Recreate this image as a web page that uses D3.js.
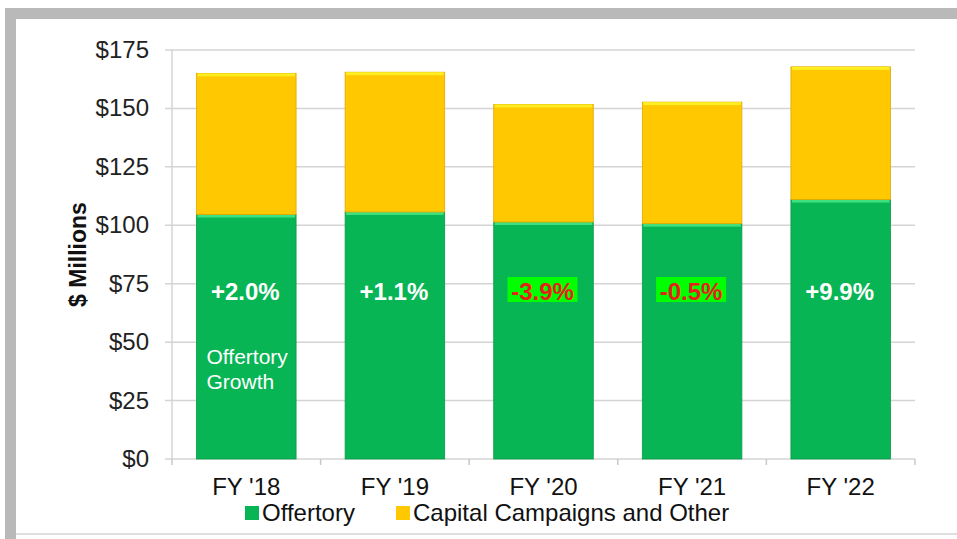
<!DOCTYPE html>
<html>
<head>
<meta charset="utf-8">
<script src="https://cdn.jsdelivr.net/npm/d3@7"></script>
<style>
  body { margin: 0; background: #fff; }
  svg { display: block; font-family: "Liberation Sans", Arial, sans-serif; }
</style>
</head>
<body>
<svg id="chart" width="957" height="539"></svg>
<script>
const width = 957, height = 539;

// data
const years = ["FY '18", "FY '19", "FY '20", "FY '21", "FY '22"];
const offertory = [104.6, 105.7, 101.4, 100.7, 111.0];
const capital = [60.4, 59.8, 50.3, 52.0, 56.8];
const growth = ["+2.0%", "+1.1%", "-3.9%", "-0.5%", "+9.9%"];
const yTicks = [0, 25, 50, 75, 100, 125, 150, 175];

const svg = d3.select("#chart");

// frame round the picture
svg.append("rect").attr("x", 5).attr("y", 8).attr("width", width - 5).attr("height", 11).attr("fill", "#b9b9b9");
svg.append("rect").attr("x", 5).attr("y", 8).attr("width", 11).attr("height", height - 8).attr("fill", "#b9b9b9");
svg.append("rect").attr("x", 16).attr("y", 533).attr("width", width - 16).attr("height", 2).attr("fill", "#dedede");

const plotL = 172, plotR = 915, plotT = 50, plotB = 459;

const x = d3.scaleBand()
    .domain(years)
    .range([plotL, plotR])
    .paddingInner(0.33)
    .paddingOuter(0.165);

const y = d3.scaleLinear()
    .domain([0, 175])
    .range([plotB, plotT]);

// gridlines
svg.append("g")
    .selectAll("line")
    .data(yTicks)
    .enter().append("line")
    .attr("x1", plotL - 7)
    .attr("x2", plotR)
    .attr("y1", d => y(d))
    .attr("y2", d => y(d))
    .attr("stroke", "#d4d4d4")
    .attr("stroke-width", 1.5);

// y axis line
svg.append("line")
    .attr("x1", plotL).attr("x2", plotL)
    .attr("y1", plotT).attr("y2", plotB)
    .attr("stroke", "#d4d4d4").attr("stroke-width", 1.5);

// x axis ticks at the category boundaries
const bounds = years.map((d, i) => plotL + i * (plotR - plotL) / years.length).concat([plotR]);
svg.append("g")
    .selectAll("line")
    .data(bounds)
    .enter().append("line")
    .attr("x1", d => d).attr("x2", d => d)
    .attr("y1", plotB).attr("y2", plotB + 6)
    .attr("stroke", "#c8c8c8").attr("stroke-width", 1.5);

// y tick labels
svg.append("g")
    .selectAll("text")
    .data(yTicks)
    .enter().append("text")
    .attr("x", 149)
    .attr("y", d => y(d) + 8)
    .attr("text-anchor", "end")
    .attr("font-size", 24)
    .attr("fill", "#222")
    .text(d => "$" + d);

// y title
svg.append("text")
    .attr("transform", "translate(86," + ((plotT + plotB) / 2) + ") rotate(-90)")
    .attr("text-anchor", "middle")
    .attr("font-size", 23)
    .attr("font-weight", "bold")
    .attr("fill", "#111")
    .text("$ Millions");

// x labels
svg.append("g")
    .selectAll("text")
    .data(years)
    .enter().append("text")
    .attr("x", d => x(d) + x.bandwidth() / 2)
    .attr("y", 495)
    .attr("text-anchor", "middle")
    .attr("font-size", 24)
    .attr("fill", "#111")
    .text(d => d);

// stacked bars
const rows = years.map((yr, i) => ({ year: yr, off: offertory[i], cap: capital[i] }));
const bars = svg.append("g");

rows.forEach(r => {
    const bx = x(r.year), bw = x.bandwidth();
    // offertory
    bars.append("rect")
        .attr("x", bx).attr("y", y(r.off))
        .attr("width", bw).attr("height", y(0) - y(r.off))
        .attr("fill", "#07b555").attr("stroke", "#0a9a48").attr("stroke-width", 0.8);
    bars.append("rect")
        .attr("x", bx + 1).attr("y", y(r.off))
        .attr("width", bw - 2).attr("height", 3)
        .attr("fill", "#3fe07f");
    // capital campaigns
    bars.append("rect")
        .attr("x", bx).attr("y", y(r.off + r.cap))
        .attr("width", bw).attr("height", y(r.off) - y(r.off + r.cap))
        .attr("fill", "#ffc800").attr("stroke", "#e0a800").attr("stroke-width", 0.8);
    bars.append("rect")
        .attr("x", bx + 1).attr("y", y(r.off + r.cap))
        .attr("width", bw - 2).attr("height", 3)
        .attr("fill", "#ffee22");
});

// growth labels
growth.forEach((g, i) => {
    const cx = x(years[i]) + x.bandwidth() / 2;
    const neg = g.startsWith("-");
    if (neg) {
        svg.append("rect")
            .attr("x", cx - 36).attr("y", 277)
            .attr("width", 70).attr("height", 25)
            .attr("fill", "#00ff00");
    }
    svg.append("text")
        .attr("x", cx - 1)
        .attr("y", 300)
        .attr("text-anchor", "middle")
        .attr("font-size", 24)
        .attr("font-weight", "bold")
        .attr("fill", neg ? "#e8201a" : "#fff")
        .text(g);
});

// note inside first bar
svg.append("text")
    .attr("x", x(years[0]) + 10)
    .attr("y", 364)
    .attr("font-size", 21)
    .attr("fill", "#fff")
    .selectAll("tspan")
    .data(["Offertory", "Growth"])
    .enter().append("tspan")
    .attr("x", x(years[0]) + 10)
    .attr("dy", (d, i) => i === 0 ? 0 : 25)
    .text(d => d);

// legend
const legend = [
    { name: "Offertory", color: "#07b555", x: 245 },
    { name: "Capital Campaigns and Other", color: "#ffc800", x: 396 }
];
const lg = svg.append("g").selectAll("g").data(legend).enter().append("g");
lg.append("rect")
    .attr("x", d => d.x).attr("y", 506)
    .attr("width", 14).attr("height", 14)
    .attr("fill", d => d.color);
lg.append("text")
    .attr("x", d => d.x + 17)
    .attr("y", 521)
    .attr("font-size", 24)
    .attr("fill", "#111")
    .text(d => d.name);
</script>
</body>
</html>
